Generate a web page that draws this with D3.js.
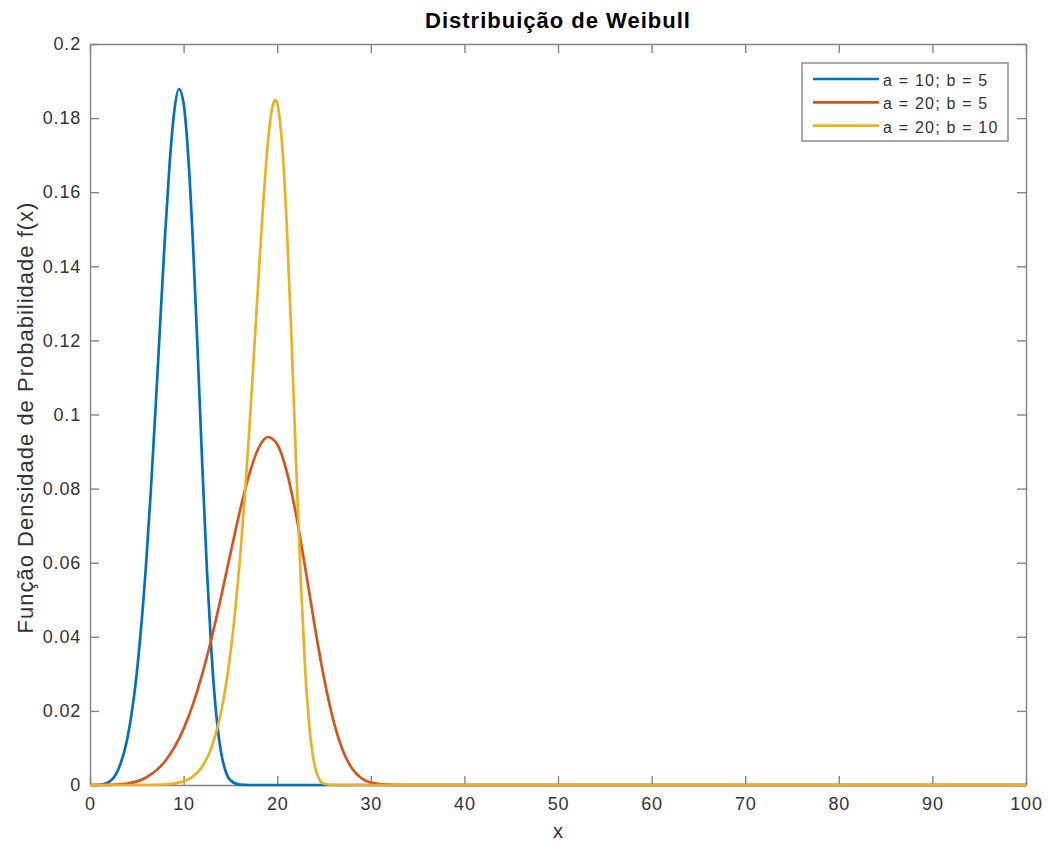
<!DOCTYPE html>
<html>
<head>
<meta charset="utf-8">
<script src="https://cdn.jsdelivr.net/npm/d3@7"></script>
<style>
  html, body { margin: 0; padding: 0; background: #fff; }
  svg { display: block; font-family: "Liberation Sans", Arial, Helvetica, sans-serif; }
</style>
</head>
<body>
<svg id="chart" width="1049" height="843"></svg>
<script>
// Weibull densities sampled along x (scale a, shape b)
const xA10B5 = [0,1,2,3,4,5,6,6.5,7,7.5,8,8.5,9,9.5,10,10.5,11,11.5,12,12.5,13,13.5,14,14.5,15,16,17,18,100];
const yA10B5 = [0,0.00005,0.0008,0.00404,0.01267,0.03029,0.05995,0.07948,0.10148,0.12478,0.14758,0.16747,0.18177,0.18786,0.18394,0.16960,0.14626,0.11703,0.08608,0.05770,0.03486,0.01875,0.00887,0.00364,0.00128,0.00009,0.000003,0,0];

const xA20B5 = [0,2,4,6,8,9,10,11,12,13,14,15,16,17,18,19,20,21,22,23,24,25,26,27,28,29,30,32,34,36,100];
const yA20B5 = [0,0.000025,0.0004,0.00202,0.00634,0.01007,0.01515,0.02176,0.02998,0.03974,0.05074,0.06239,0.07379,0.08374,0.09089,0.09393,0.09197,0.08480,0.07313,0.05852,0.04304,0.02885,0.01743,0.00938,0.00443,0.00182,0.00064,0.00005,0.000001,0,0];

const xA20B10 = [0,5,8,10,11,12,13,14,15,15.5,16,16.5,17,17.5,18,18.5,19,19.5,19.8,20,20.5,21,21.5,22,22.5,23,23.5,24,24.5,25,26,27,100];
const yA20B10 = [0,0.000002,0.00013,0.00098,0.0023,0.00501,0.01022,0.01962,0.03549,0.04664,0.06028,0.07649,0.09511,0.11555,0.13669,0.15670,0.17316,0.18317,0.18489,0.18394,0.17360,0.15216,0.12207,0.08813,0.05612,0.03079,0.01415,0.00528,0.00154,0.00034,0.000006,0,0];

const seriesLabels = ["a = 10; b = 5", "a = 20; b = 5", "a = 20; b = 10"];
const seriesColors = ["#0072BD", "#D95319", "#EDB120"];
const xTicks = [0,10,20,30,40,50,60,70,80,90,100];
const yTicks = [0,0.02,0.04,0.06,0.08,0.1,0.12,0.14,0.16,0.18,0.2];

const titleText = "Distribuição de Weibull";
const xLabelText = "x";
const yLabelText = "Função Densidade de Probabilidade f(x)";

const series = [
  { xs: xA10B5, ys: yA10B5 },
  { xs: xA20B5, ys: yA20B5 },
  { xs: xA20B10, ys: yA20B10 }
].map((s, i) => ({
  label: seriesLabels[i],
  color: seriesColors[i],
  points: s.xs.map((x, j) => [x, s.ys[j]])
}));

const svg = d3.select("#chart");
const box = { left: 90, top: 44, right: 1026, bottom: 785 };

const x = d3.scaleLinear().domain([0, 100]).range([box.left, box.right]);
const y = d3.scaleLinear().domain([0, 0.2]).range([box.bottom, box.top]);

const axisColor = "#858585";
const textColor = "#333333";
const tickLen = 9;

// Axes: box outline with ticks pointing inward on all four sides
function styleAxis(g) {
  g.select(".domain").attr("stroke", axisColor).attr("stroke-width", 1.4);
  g.selectAll(".tick line").attr("stroke", axisColor).attr("stroke-width", 1.4);
  g.selectAll(".tick text")
    .attr("fill", textColor)
    .attr("font-size", 18)
    .attr("letter-spacing", "0.8px");
}

svg.append("g")
  .attr("transform", `translate(0,${box.bottom})`)
  .call(d3.axisBottom(x).tickValues(xTicks).tickFormat(d3.format("d")).tickSizeInner(-tickLen).tickSizeOuter(0).tickPadding(12))
  .call(styleAxis);

svg.append("g")
  .attr("transform", `translate(0,${box.top})`)
  .call(d3.axisTop(x).tickValues(xTicks).tickFormat("").tickSizeInner(-tickLen).tickSizeOuter(0))
  .call(styleAxis);

svg.append("g")
  .attr("transform", `translate(${box.left},0)`)
  .call(d3.axisLeft(y).tickValues(yTicks).tickFormat(d => d === 0 ? "0" : String(+d.toFixed(2))).tickSizeInner(-tickLen).tickSizeOuter(0).tickPadding(9))
  .call(styleAxis);

svg.append("g")
  .attr("transform", `translate(${box.right},0)`)
  .call(d3.axisRight(y).tickValues(yTicks).tickFormat("").tickSizeInner(-tickLen).tickSizeOuter(0))
  .call(styleAxis);

// Curves, drawn above the axes so the zero tails cover the baseline
const line = d3.line()
  .x(d => x(d[0]))
  .y(d => y(d[1]))
  .curve(d3.curveMonotoneX);

const plot = svg.append("g");
series.forEach(s => {
  plot.append("path")
    .datum(s.points)
    .attr("fill", "none")
    .attr("stroke", s.color)
    .attr("stroke-width", 2.7)
    .attr("stroke-linejoin", "round")
    .attr("d", line);
});

// Title and axis labels
svg.append("text")
  .attr("x", (box.left + box.right) / 2)
  .attr("y", 28)
  .attr("text-anchor", "middle")
  .attr("font-size", 22)
  .attr("font-weight", "bold")
  .attr("letter-spacing", "1px")
  .attr("fill", "#000")
  .text(titleText);

svg.append("text")
  .attr("x", (box.left + box.right) / 2)
  .attr("y", 838)
  .attr("text-anchor", "middle")
  .attr("font-size", 20)
  .attr("fill", textColor)
  .text(xLabelText);

svg.append("text")
  .attr("transform", `translate(33,${(box.top + box.bottom) / 2 + 3}) rotate(-90)`)
  .attr("text-anchor", "middle")
  .attr("font-size", 22)
  .attr("letter-spacing", "1px")
  .attr("fill", textColor)
  .text(yLabelText);

// Legend
const legend = svg.append("g").attr("transform", "translate(802,63)");
legend.append("rect")
  .attr("width", 206)
  .attr("height", 78)
  .attr("fill", "#fff")
  .attr("stroke", axisColor)
  .attr("stroke-width", 1.4);

series.forEach((s, i) => {
  const ry = 16 + i * 23.3;
  legend.append("line")
    .attr("x1", 11).attr("x2", 77)
    .attr("y1", ry).attr("y2", ry)
    .attr("stroke", s.color)
    .attr("stroke-width", 2.7);
  legend.append("text")
    .attr("x", 81)
    .attr("y", ry + 7)
    .attr("font-size", 16)
    .attr("letter-spacing", "1.2px")
    .attr("fill", textColor)
    .text(s.label);
});
</script>
</body>
</html>
